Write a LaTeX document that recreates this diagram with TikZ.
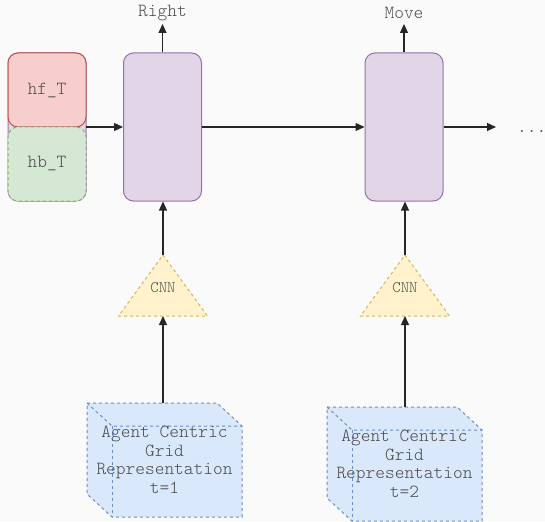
\documentclass[tikz,border=0pt]{standalone}
\usepackage{fontspec}
\setmonofont{Latin Modern Mono Light}
\usetikzlibrary{arrows.meta}

\definecolor{bg}{HTML}{FAFAFA}
\definecolor{ink}{HTML}{4A4A4A}
\definecolor{redfill}{HTML}{F8CECC}
\definecolor{redline}{HTML}{B85450}
\definecolor{greenfill}{HTML}{D5E8D4}
\definecolor{greenline}{HTML}{82B366}
\definecolor{purplefill}{HTML}{E1D5E7}
\definecolor{purpleline}{HTML}{9673A6}
\definecolor{yellowfill}{HTML}{FFF2CC}
\definecolor{yellowline}{HTML}{D6B656}
\definecolor{bluefill}{HTML}{DAE8FC}
\definecolor{blueline}{HTML}{6C8EBF}

\tikzset{
  txt/.style={font=\ttfamily\fontsize{18.5}{18.5}\selectfont, text=ink},
  cell/.style={draw=purpleline, fill=purplefill, rounded corners=10pt,
    minimum width=78pt, minimum height=148pt, line width=1pt, inner sep=0pt},
  statebox/.style={rounded corners=10pt, minimum width=78pt,
    minimum height=74pt, line width=1pt, inner sep=0pt, txt},
  fwdstate/.style={statebox, draw=redline, fill=redfill},
  bwdstate/.style={statebox, draw=greenline, fill=greenfill, dashed},
  cnnshape/.style={draw=yellowline, fill=yellowfill, dashed, line width=1pt},
  gridshape/.style={draw=blueline, fill=bluefill, dashed, line width=1pt},
  flow/.style={draw=black!85, line width=1.2pt, -{Triangle[length=9pt,width=8pt]}},
}

\newcommand{\cubeshape}[3]{% #1 = back top-left corner x, #2 = y, #3 = name
  \path[gridshape] (#1,#2) -- ++(130,0) -- ++(25,23) -- ++(0,91) -- ++(-130,0)
     -- ++(-25,-23) -- cycle;
  \draw[gridshape, fill=none] (#1,#2) -- ++(25,23) -- ++(130,0);
  \draw[gridshape, fill=none] (#1+25,#2+23) -- ++(0,91);
  \coordinate (#3) at (#1+77.5,#2);
}

\begin{document}
\begin{tikzpicture}[x=1pt, y=-1pt]
  \fill[bg] (0,0) rectangle (545,521);
  \useasboundingbox (0,0) rectangle (545,521);

  % initial hidden state (forward over backward)
  \node[cell, minimum height=148pt] (init) at (47,127) {};
  \node[fwdstate] (hf) at (47,90) {hf\_T};
  \node[bwdstate] (hb) at (47,164) {hb\_T};
  \coordinate (initout) at (86,127);

  % recurrent cells
  \node[cell] (cell1) at (162.5,127) {};
  \node[cell] (cell2) at (404,127) {};

  % outputs
  \node[txt, anchor=center] (out1) at (162.5,13) {Right};
  \node[txt, anchor=center] (out2) at (404,13) {Move};
  \coordinate (out1tip) at (162.5,24);
  \coordinate (out2tip) at (404,24);

  % continuation
  \coordinate (nexttip) at (496,127);
  \node[txt, anchor=base west, inner sep=0pt] (more) at (517,133) {...};

  % CNN encoders
  \path[cnnshape] (163,255) -- (207.5,316) -- (118.5,316) -- cycle;
  \node[txt, font=\ttfamily\fontsize{16}{16}\selectfont] (cnn1) at (163,288) {CNN};
  \coordinate (cnn1top) at (163,255);
  \coordinate (cnn1base) at (163,316);

  \path[cnnshape] (405,255) -- (449.5,316) -- (360.5,316) -- cycle;
  \node[txt, font=\ttfamily\fontsize{16}{16}\selectfont] (cnn2) at (405,288) {CNN};
  \coordinate (cnn2top) at (405,255);
  \coordinate (cnn2base) at (405,316);

  % grid inputs
  \cubeshape{87}{403}{grid1top}
  \node[txt, align=center] (grid1) at (164.5,460)
    {Agent Centric\\Grid\\Representation\\t=1};
  \cubeshape{327}{407}{grid2top}
  \node[txt, align=center] (grid2) at (404.5,464)
    {Agent Centric\\Grid\\Representation\\t=2};

  % connectors
  \draw[flow] (initout) -- (cell1.west |- initout);
  \draw[flow] (cell1.east) -- (cell2.west);
  \draw[flow] (cell2.east) -- (nexttip);
  \draw[flow] (cell1.north) -- (out1tip);
  \draw[flow] (cell2.north) -- (out2tip);
  \draw[flow] (cnn1top) -- (cnn1top |- cell1.south);
  \draw[flow] (cnn2top) -- (cnn2top |- cell2.south);
  \draw[flow] (grid1top -| cnn1base) -- (cnn1base);
  \draw[flow] (grid2top -| cnn2base) -- (cnn2base);
\end{tikzpicture}
\end{document}
